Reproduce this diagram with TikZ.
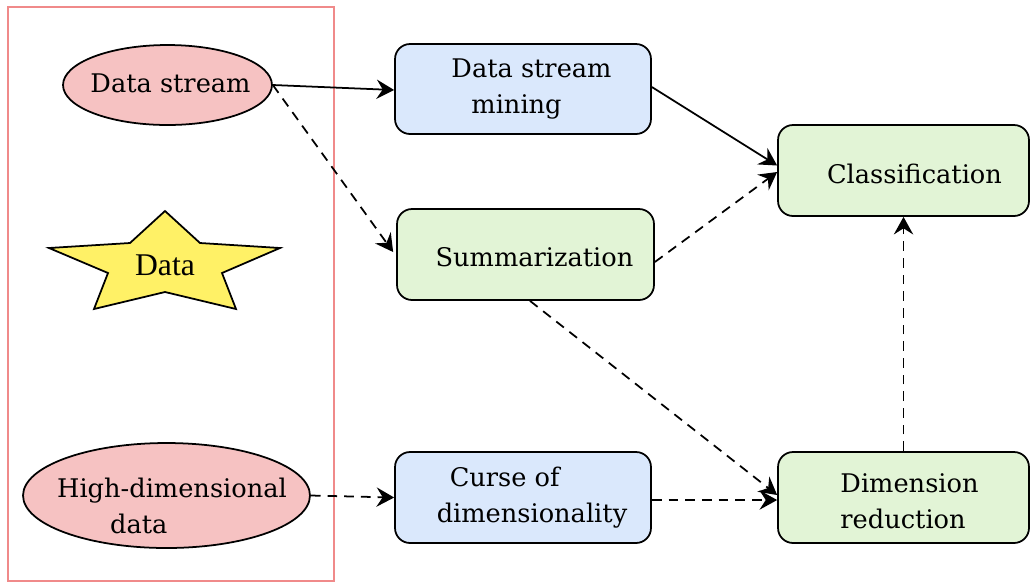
\documentclass[tikz,border=0pt]{standalone}
\usepackage{fontspec}
\setmainfont{DejaVu Serif}
\newfontfamily\timesfont{Liberation Serif}
\usetikzlibrary{shapes.geometric,arrows.meta}
\definecolor{pinkfill}{HTML}{F6C2C2}
\definecolor{bluefill}{HTML}{DAE8FC}
\definecolor{greenfill}{HTML}{E2F4D6}
\definecolor{starfill}{HTML}{FFF166}
\definecolor{frame}{HTML}{F08A8A}
\tikzset{
  base/.style={draw=black, line width=1pt},
  ell/.style={base, ellipse, fill=pinkfill, inner sep=0pt},
  bluebox/.style={base, rectangle, rounded corners=0.3cm, fill=bluefill, inner sep=0pt},
  greenbox/.style={base, rectangle, rounded corners=0.3cm, fill=greenfill, inner sep=0pt},
  txt/.style={font=\fontsize{14.6}{20.5}\selectfont, inner sep=0pt},
  tip/.style={-{Stealth[length=10pt,width=11pt,inset=3.5pt]}},
  solidarrow/.style={line width=1pt, tip},
  dasharrow/.style={line width=1pt, tip, dash pattern=on 5.5pt off 4pt},
}
\begin{document}
\begin{tikzpicture}[x=0.02cm,y=-0.02cm]
\useasboundingbox (0,0) rectangle (1030,583);
% frame
\draw[frame, line width=1pt] (8,7) rectangle (334,581);
% ellipses
\node[ell, minimum width=4.18cm, minimum height=1.6cm,
  label={[txt,xshift=0.06cm,yshift=0.04cm]center:Data stream}] (ds) at (167.5,85) {};
\node[ell, minimum width=5.74cm, minimum height=2.1cm,
  label={[txt,align=left,xshift=0.11cm,yshift=-0.2cm]center:High-dimensional\\\hspace*{30.2pt}data}] (hd) at (166.5,495.5) {};
% star
\draw[base, fill=starfill] (165,211) -- (200,243) -- (280,248) -- (222,273) -- (236,309)
  -- (165,292) -- (94,309) -- (108,273) -- (49,248) -- (130,243) -- cycle;
\node[txt] (data) at (165,265) {\timesfont\fontsize{18}{22}\selectfont Data};
% boxes
\node[bluebox, minimum width=5.12cm, minimum height=1.8cm,
  label={[txt,align=left,xshift=0.17cm]center:Data stream\\\hspace*{11.4pt}mining}] (dsm) at (523,89) {};
\node[greenbox, minimum width=5.14cm, minimum height=1.82cm,
  label={[txt,xshift=0.18cm,yshift=-0.05cm]center:Summarization}] (sum) at (525.5,254.5) {};
\node[greenbox, minimum width=5.02cm, minimum height=1.82cm,
  label={[txt,xshift=0.22cm,yshift=-0.07cm]center:Classification}] (cls) at (903.5,170.5) {};
\node[bluebox, minimum width=5.12cm, minimum height=1.82cm,
  label={[txt,align=left,xshift=0.18cm]center:\hspace*{7.4pt}Curse of\\dimensionality}] (cod) at (523,497.5) {};
\node[greenbox, minimum width=5.02cm, minimum height=1.82cm,
  label={[txt,align=left,xshift=0.12cm,yshift=-0.07cm]center:Dimension\\reduction}] (dr) at (903.5,497.5) {};
% connectors
\draw[solidarrow] (ds.east) -- ([yshift=-0.02cm]dsm.west);
\draw[dasharrow] (ds.east) -- ([xshift=-0.06cm,yshift=0.05cm]sum.west);
\draw[solidarrow] ([yshift=0.04cm]dsm.east) -- ([yshift=0.1cm]cls.west);
\draw[dasharrow] ([yshift=-0.15cm]sum.east) -- ([yshift=-0.03cm]cls.west);
\draw[dasharrow] ([xshift=0.09cm]sum.south) -- ([yshift=0.05cm]dr.west);
\draw[dasharrow] ([yshift=-0.05cm]cod.east) -- ([yshift=-0.05cm]dr.west);
\draw[dasharrow] (dr.north) -- (cls.south);
\draw[dasharrow] (hd.east) -- (cod.west);
\end{tikzpicture}
\end{document}
